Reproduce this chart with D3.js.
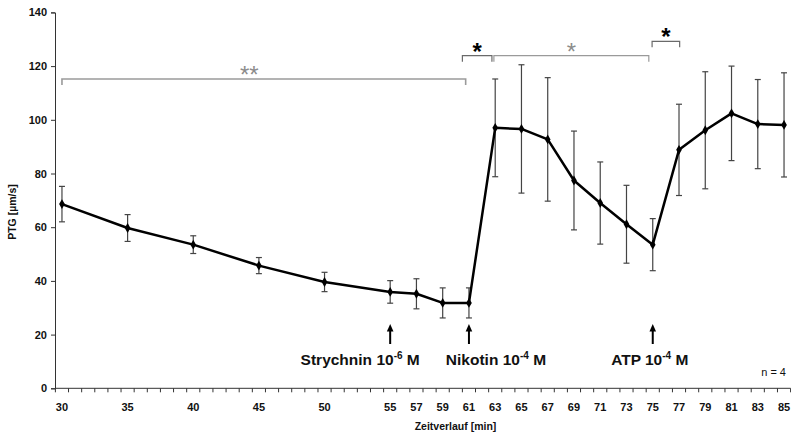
<!DOCTYPE html>
<html>
<head>
<meta charset="utf-8">
<script src="https://cdn.jsdelivr.net/npm/d3@7/dist/d3.min.js"></script>
<style>
  html, body { margin: 0; padding: 0; background: #fff; }
  svg { display: block; font-family: "Liberation Sans", Arial, sans-serif; }
</style>
</head>
<body>
<svg id="chart" width="791" height="433"></svg>
<script>
// Sampling times (min)
const minutes = [30, 35, 40, 45, 50, 55, 57, 59, 61, 63, 65, 67, 69, 71, 73, 75, 77, 79, 81, 83, 85];
// PTG mean values (µm/s)
const ptgMean = [68.6, 59.7, 53.5, 45.7, 39.6, 35.9, 35.2, 31.8, 31.8, 97.0, 96.6, 92.7, 77.4, 69.0, 61.1, 53.5, 88.8, 96.1, 102.4, 98.4, 98.1];
// Error (± µm/s)
const ptgError = [6.6, 5.0, 3.3, 3.0, 3.6, 4.2, 5.6, 5.6, 5.6, 18.2, 23.9, 23.0, 18.4, 15.3, 14.5, 9.7, 17.0, 21.8, 17.6, 16.6, 19.4];

// Axis labels
const xTickLabels = [30, 35, 40, 45, 50, 55, 57, 59, 61, 63, 65, 67, 69, 71, 73, 75, 77, 79, 81, 83, 85];
const yTickValues = [0, 20, 40, 60, 80, 100, 120, 140];

// Substance applications
const treatmentMinutes = [55, 61, 75];
const treatmentNames = ["Strychnin 10", "Nikotin 10", "ATP 10"];
const treatmentExponents = ["-6", "-4", "-4"];

// Significance brackets (start/end minute, stars, tier)
const sigFrom = [30, 60.5, 62.9, 74.95];
const sigTo = [60.75, 62.75, 74.7, 77.05];
const sigStars = ["**", "*", "*", "*"];
const sigTier = [0, 1, 1, 2];
const sigGray = [true, false, true, false];

const svg = d3.select("#chart");

const x = d3.scaleLinear().domain([29.5, 85.5]).range([55.4, 790.6]);
const y = d3.scaleLinear().domain([0, 140]).range([388.3, 12.4]);

const font = '"Liberation Sans", Arial, sans-serif';

// Y axis
const yAxis = d3.axisLeft(y).tickValues(yTickValues).tickSize(4).tickPadding(4).tickFormat(d3.format("d"));
const gy = svg.append("g").attr("transform", "translate(55,0)").call(yAxis);
gy.select(".domain").attr("stroke", "#333").attr("stroke-width", 1);
gy.selectAll(".tick line").attr("stroke", "#333");
gy.selectAll(".tick text").attr("font-size", 11).attr("font-weight", "bold").attr("fill", "#111").attr("font-family", font);

// X axis: boundary ticks every minute, labels at selected minutes
const xBase = y(0);
const boundaries = d3.range(29.5, 86, 1);
svg.append("line")
  .attr("x1", x(29.5)).attr("x2", x(85.5))
  .attr("y1", xBase).attr("y2", xBase)
  .attr("stroke", "#333").attr("stroke-width", 1);
svg.append("g").selectAll("line").data(boundaries).join("line")
  .attr("x1", d => x(d)).attr("x2", d => x(d))
  .attr("y1", xBase).attr("y2", xBase + 4)
  .attr("stroke", "#333").attr("stroke-width", 1);
svg.append("g").selectAll("text").data(xTickLabels).join("text")
  .attr("x", d => x(d)).attr("y", 410.5)
  .attr("text-anchor", "middle")
  .attr("font-size", 11).attr("font-weight", "bold").attr("fill", "#111")
  .text(d => d);

// Axis titles
svg.append("text")
  .attr("x", 455.5).attr("y", 429.5)
  .attr("text-anchor", "middle")
  .attr("font-size", 10.5).attr("font-weight", "bold").attr("fill", "#111")
  .text("Zeitverlauf [min]");
svg.append("text")
  .attr("transform", "translate(15.5,212) rotate(-90)")
  .attr("text-anchor", "middle")
  .attr("font-size", 10.5).attr("font-weight", "bold").attr("fill", "#111")
  .text("PTG [µm/s]");

// Data
const data = minutes.map((m, i) => ({ m, v: ptgMean[i], e: ptgError[i] }));

// Error bars
const eb = svg.append("g").attr("stroke", "#444").attr("stroke-width", 1.2);
eb.selectAll("line.v").data(data).join("line").attr("class", "v")
  .attr("x1", d => x(d.m)).attr("x2", d => x(d.m))
  .attr("y1", d => y(d.v + d.e)).attr("y2", d => y(d.v - d.e));
eb.selectAll("line.t").data(data).join("line").attr("class", "t")
  .attr("x1", d => x(d.m) - 3).attr("x2", d => x(d.m) + 3)
  .attr("y1", d => y(d.v + d.e)).attr("y2", d => y(d.v + d.e));
eb.selectAll("line.b").data(data).join("line").attr("class", "b")
  .attr("x1", d => x(d.m) - 3).attr("x2", d => x(d.m) + 3)
  .attr("y1", d => y(d.v - d.e)).attr("y2", d => y(d.v - d.e));

// Line
svg.append("path")
  .datum(data)
  .attr("fill", "none").attr("stroke", "#000").attr("stroke-width", 2.5)
  .attr("stroke-linejoin", "round")
  .attr("d", d3.line().x(d => x(d.m)).y(d => y(d.v)));

// Diamond markers
svg.append("g").selectAll("path").data(data).join("path")
  .attr("transform", d => `translate(${x(d.m)},${y(d.v)})`)
  .attr("d", d3.symbol().type(d3.symbolDiamond).size(28))
  .attr("fill", "#000");

// Significance brackets
const tierY = [79, 55.7, 41.3];
const bracketG = svg.append("g");
sigFrom.forEach((f, i) => {
  const x1 = x(f), x2 = x(sigTo[i]), yy = tierY[sigTier[i]];
  const col = sigGray[i] ? "#9a9a9a" : "#6a6a6a";
  bracketG.append("path")
    .attr("d", `M${x1},${yy + 6}V${yy}H${x2}V${yy + 6}`)
    .attr("fill", "none").attr("stroke", col).attr("stroke-width", sigTier[i] === 0 ? 1.6 : 1.2);
  bracketG.append("text")
    .attr("x", sigTier[i] === 0 ? 249.3 : (x1 + x2) / 2)
    .attr("y", yy + 4)
    .attr("text-anchor", "middle")
    .attr("font-size", 24)
    .attr("font-weight", sigGray[i] ? "normal" : "bold")
    .attr("fill", sigGray[i] ? "#8c8c8c" : "#000")
    .text(sigStars[i]);
});

// Treatment arrows and labels
const labelShift = [-30, 27, -3];
treatmentMinutes.forEach((m, i) => {
  const ax = x(m);
  svg.append("line")
    .attr("x1", ax).attr("x2", ax).attr("y1", 330).attr("y2", 344)
    .attr("stroke", "#000").attr("stroke-width", 2);
  svg.append("path")
    .attr("d", `M${ax},${324}L${ax - 3.3},${331.5}L${ax + 3.3},${331.5}Z`)
    .attr("fill", "#000");
  const t = svg.append("text")
    .attr("x", ax + labelShift[i]).attr("y", 365)
    .attr("text-anchor", "middle")
    .attr("font-size", 15.5).attr("font-weight", "bold").attr("fill", "#111");
  t.append("tspan").text(treatmentNames[i]);
  t.append("tspan").attr("dy", -6).attr("font-size", 10).text(treatmentExponents[i]);
  t.append("tspan").attr("dy", 6).text(" M");
});

// Sample size
svg.append("text")
  .attr("x", 786).attr("y", 376)
  .attr("text-anchor", "end")
  .attr("font-size", 11).attr("fill", "#111")
  .attr("xml:space", "preserve")
  .text("n = 4");
</script>
</body>
</html>
